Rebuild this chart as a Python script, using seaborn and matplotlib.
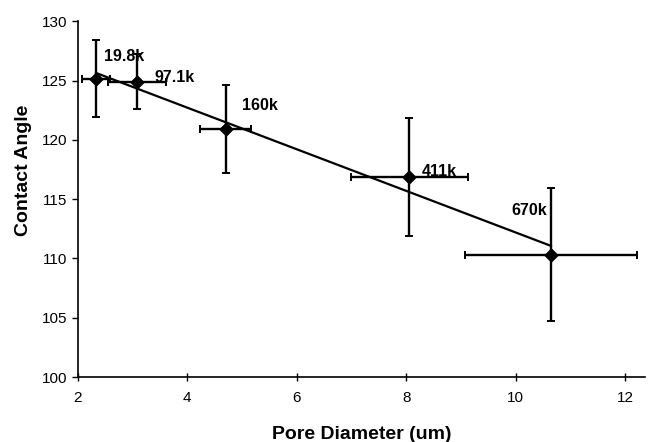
import numpy as np
import pandas as pd
import seaborn as sns
import matplotlib
matplotlib.use("Agg")
import matplotlib.pyplot as plt

# values
labels = ["19.8k", "97.1k", "160k", "411k", "670k"]
pore_diameter = [2.33, 3.08, 4.70, 8.06, 10.65]
contact_angle = [125.15, 124.9, 120.9, 116.85, 110.3]
diameter_err = [0.25, 0.53, 0.47, 1.07, 1.57]
angle_err = [3.25, 2.3, 3.7, 4.95, 5.6]

df = pd.DataFrame({"d": pore_diameter, "angle": contact_angle,
                   "xerr": diameter_err, "yerr": angle_err, "label": labels})

sns.set_style("ticks")
plt.rcParams["font.family"] = ["Liberation Sans", "DejaVu Sans"]
plt.rcParams["text.color"] = "black"
plt.rcParams["axes.labelcolor"] = "black"

fig = plt.figure(figsize=(6.48, 4.42), dpi=100)
ax = fig.add_axes([0.12, 0.147, 0.875, 0.805])

# linear trendline over the data range
sns.regplot(data=df, x="d", y="angle", scatter=False, ci=None, truncate=True,
            color="black", line_kws={"linewidth": 1.6}, ax=ax)

ax.errorbar(df["d"], df["angle"], xerr=df["xerr"], yerr=df["yerr"], fmt="none",
            ecolor="black", elinewidth=1.7, capsize=3, capthick=1.4, zorder=3)
sns.scatterplot(data=df, x="d", y="angle", marker="D", s=48, color="black",
                edgecolor="black", zorder=4, ax=ax)

# label offsets in points relative to each point
offsets = [(6, 16, "left"), (13, 3, "left"), (12, 17, "left"), (9, 4, "left"), (-3, 32, "right")]
for (_, row), (dx, dy, ha) in zip(df.iterrows(), offsets):
    ax.annotate(row["label"], (row["d"], row["angle"]), xytext=(dx, dy),
                textcoords="offset points", ha=ha, va="center",
                fontsize=11.5, fontweight="bold", color="black")

ax.set_xlim(2, 12.36)
ax.set_ylim(100, 130)
ax.set_xticks([2, 4, 6, 8, 10, 12])
ax.set_yticks(np.arange(100, 131, 5))
ax.tick_params(axis="y", direction="out", length=4, width=1, labelsize=11, colors="black")
ax.tick_params(axis="x", direction="inout", length=6, width=1, labelsize=11, pad=7, colors="black")
sns.despine(ax=ax)
for s in ["left", "bottom"]:
    ax.spines[s].set_linewidth(1.2)
    ax.spines[s].set_color("black")

ax.set_xlabel("Pore Diameter (um)", fontsize=14, fontweight="bold", labelpad=15)
ax.set_ylabel("Contact Angle", fontsize=14, fontweight="bold")
ax.yaxis.set_label_coords(-0.08, 0.58)

fig.savefig("out.png", dpi=100)
